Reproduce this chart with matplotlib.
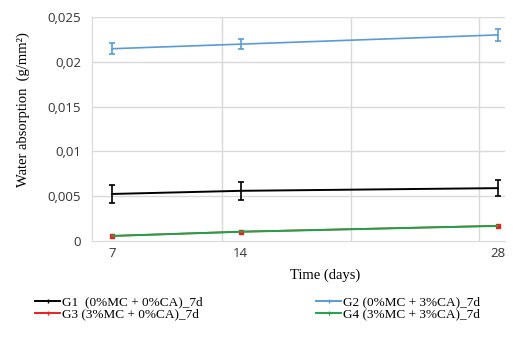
import matplotlib.pyplot as plt
from matplotlib.lines import Line2D
from matplotlib.ticker import FuncFormatter

days = [7, 14, 28]
labels = ["G1  (0%MC + 0%CA)_7d", "G2 (0%MC + 3%CA)_7d",
          "G3 (3%MC + 0%CA)_7d", "G4 (3%MC + 3%CA)_7d"]
g1 = [0.00525, 0.0056, 0.0059]
g1_err = [0.00097, 0.001, 0.00093]
g2 = [0.02146, 0.02197, 0.0230]
g2_err = [0.0006, 0.00055, 0.00065]
g3 = [0.00057, 0.00104, 0.0017]
g4 = [0.00056, 0.00103, 0.00168]

colors = ["#000000", "#5b9bd5", "#e8211d", "#1fa34a"]

fig = plt.figure(figsize=(5.13, 3.41), dpi=100)
ax = fig.add_axes([92 / 513, 1 - 241 / 341, (505 - 92) / 513, (241 - 17) / 341])

ax.errorbar(days, g1, yerr=g1_err, color=colors[0], lw=1.4, capsize=2.5,
            elinewidth=1.2, capthick=1.2, zorder=3)
ax.errorbar(days, g2, yerr=g2_err, color=colors[1], lw=1.2, capsize=2.5,
            elinewidth=1.2, capthick=1.2, zorder=3)
ax.plot(days, g3, color=colors[2], lw=1.2, marker="s", ms=2.5, zorder=3)
ax.plot(days, g4, color=colors[3], lw=1.4, zorder=4)

ax.set_xlim(5.9, 28.4)
ax.set_ylim(0, 0.025)
ax.set_yticks([0, 0.005, 0.01, 0.015, 0.02, 0.025])
ax.yaxis.set_major_formatter(FuncFormatter(
    lambda v, p: "0" if v == 0 else f"{v:g}".replace(".", ",")))
ax.set_xticks(days)
ax.tick_params(length=0, labelsize=9.5)
ax.tick_params(axis="y", pad=8)
ax.tick_params(axis="x", pad=4)
for t in ax.get_xticklabels() + ax.get_yticklabels():
    t.set_family("Open Sans")
    t.set_color("#333333")

for y in [0.005, 0.01, 0.015, 0.02, 0.025]:
    ax.axhline(y, color="#d9d9d9", lw=1, zorder=0)
for x in [13, 20, 27]:
    ax.axvline(x, color="#d9d9d9", lw=1, zorder=0)
for s in ["top", "right"]:
    ax.spines[s].set_visible(False)
for s in ["left", "bottom"]:
    ax.spines[s].set_color("#d9d9d9")

fig.text(23 / 513, 1 - 110 / 341, "Water absorption  (g/mm²)", family="Liberation Serif",
         fontsize=10.5, rotation=90, ha="center", va="center")
fig.text(325 / 513, 1 - 275 / 341, "Time (days)", family="Liberation Serif",
         fontsize=10.5, ha="center", va="center")

handles = [Line2D([], [], color=c, lw=1.4, marker="|", ms=3) for c in colors]
order = [0, 2, 1, 3]
fig.legend([handles[i] for i in order], [labels[i] for i in order],
           ncol=2, loc="upper left", bbox_to_anchor=(35 / 513, 1 - 296 / 341),
           frameon=False, prop={"family": "Liberation Serif", "size": 9.5},
           handlelength=1.9, handletextpad=0.15, columnspacing=8.6,
           labelspacing=0.0, borderpad=0, borderaxespad=0)

plt.savefig("out.png", dpi=100)
